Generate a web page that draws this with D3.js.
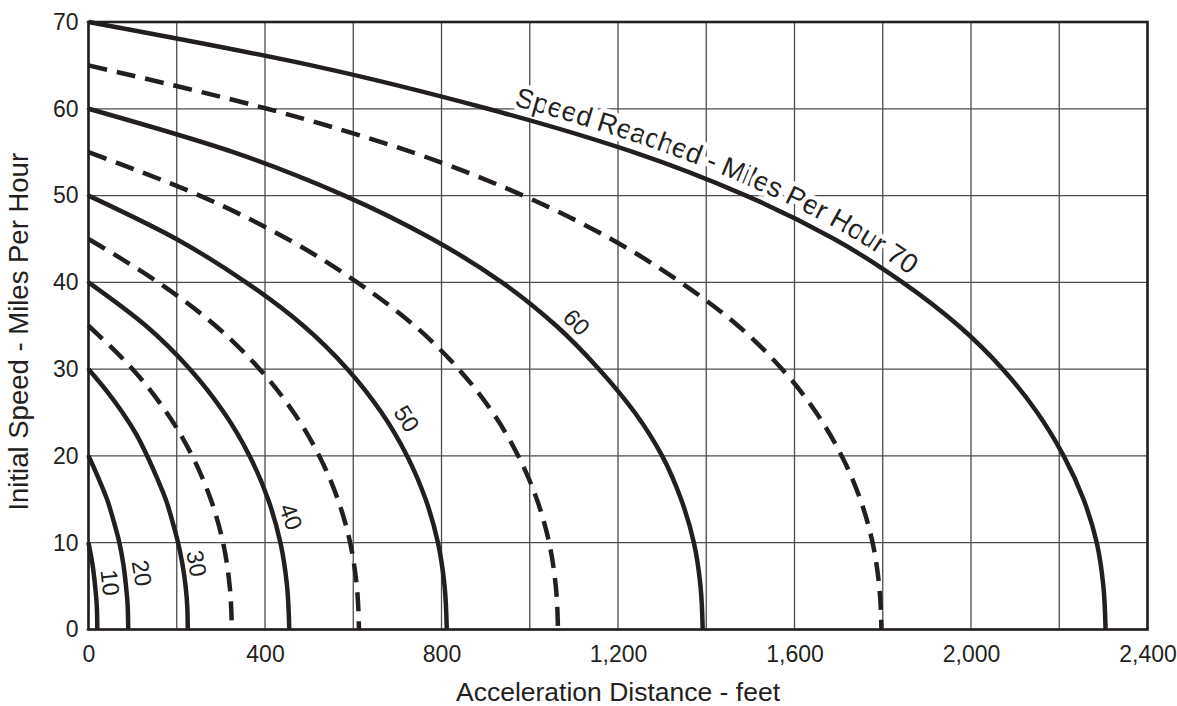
<!DOCTYPE html>
<html><head><meta charset="utf-8">
<script src="https://cdn.jsdelivr.net/npm/d3@7"></script>
<style>
body{margin:0;background:#fff}
text{font-family:"Liberation Sans",Arial,Helvetica,sans-serif;fill:#231f20}
</style>
</head><body>
<svg id="chart" width="1177" height="706"></svg>
<script>
// ---------------- DATA ----------------
const xTickValues = [0, 400, 800, 1200, 1600, 2000, 2400];
const xGridValues = [0, 200, 400, 600, 800, 1000, 1200, 1400, 1600, 1800, 2000, 2200, 2400];
const yTickValues = [0, 10, 20, 30, 40, 50, 60, 70];
const xTitle = "Acceleration Distance - feet";
const yTitle = "Initial Speed - Miles Per Hour";
const mainLabel = "Speed Reached - Miles Per Hour 70";

// each curve: [acceleration distance (ft), initial speed (mph)]
const curve10 = [[0,10],[9,7.5],[15,5],[19,2.5],[20,0]];
const curve20 = [[0,20],[22,17.5],[42,15],[57,12.5],[70,10],[79,7.5],[85,5],[89,2.5],[90,0]];
const curve30 = [[0,30],[41,27.5],[77,25],[108,22.5],[133,20],[155,17.5],[175,15],[190,12.5],[203,10],[213,7.5],[220,5],[224,2.5],[225,0]];
const curve35 = [[0,35],[100,30],[177,25],[235,20],[277,15],[305,10],[320,5],[325,0]];
const curve40 = [[0,40],[130,35],[230,30],[307,25],[365,20],[407,15],[435,10],[450,5],[455,0]];
const curve45 = [[0,45],[158,40],[288,35],[388,30],[465,25],[523,20],[565,15],[593,10],[608,5],[613,0]];
const curve50 = [[0,50],[199,45],[357,40],[487,35],[587,30],[664,25],[722,20],[764,15],[792,10],[807,5],[812,0]];
const curve55 = [[0,55],[252,50],[451,45],[609,40],[739,35],[839,30],[916,25],[974,20],[1016,15],[1044,10],[1059,5],[1064,0]];
const curve60 = [[0,60],[328,55],[580,50],[779,45],[937,40],[1060,35],[1157,30],[1238,25],[1300,20],[1343,15],[1372,10],[1387,5],[1392,0]];
const curve65 = [[0,65],[405,60],[733,55],[985,50],[1184,45],[1342,40],[1472,35],[1572,30],[1649,25],[1707,20],[1749,15],[1777,10],[1792,5],[1797,0]];
const curve70 = [[0,70],[505,65],[905,60],[1235,55],[1490,50],[1690,45],[1845,40],[1972,35],[2072,30],[2150,25],[2210,20],[2255,15],[2285,10],[2300,5],[2305,0]];

const speedsReached = [10,20,30,35,40,45,50,55,60,65,70];
const dashedSpeeds = [35,45,55,65];
const curveData = [curve10,curve20,curve30,curve35,curve40,curve45,curve50,curve55,curve60,curve65,curve70];

// curve labels: text, distance, speed at label centre
const labelTexts = ["10","20","30","40","50","60"];
const labelDistances = [49, 121, 245, 459, 721, 1106];
const labelSpeeds = [5.4, 6.5, 7.6, 13, 24.3, 35.4];

// ---------------- STYLE ----------------
const labelAngles = [84, 80, 80, 70, 58, 45];
const ink = "#231f20";

const svg = d3.select("#chart");
const x = d3.scaleLinear().domain([0, 2400]).range([88.5, 1147.5]);
const y = d3.scaleLinear().domain([0, 70]).range([629.5, 22]);

// grid
svg.append("g").selectAll("line").data(xGridValues).join("line")
  .attr("x1", d => x(d)).attr("x2", d => x(d))
  .attr("y1", y(0)).attr("y2", y(70))
  .attr("stroke", "#4d4d4f").attr("stroke-width", 1.3);
svg.append("g").selectAll("line").data(yTickValues).join("line")
  .attr("x1", x(0) - 2).attr("x2", x(2400))
  .attr("y1", d => y(d)).attr("y2", d => y(d))
  .attr("stroke", "#4d4d4f").attr("stroke-width", 1.3);

// axes tick labels
const xAxis = svg.append("g").attr("transform", `translate(0,${y(0)})`)
  .call(d3.axisBottom(x).tickValues(xTickValues).tickSize(0).tickPadding(16).tickFormat(d3.format(",")));
const yAxis = svg.append("g").attr("transform", `translate(${x(0)},0)`)
  .call(d3.axisLeft(y).tickValues(yTickValues).tickSize(0).tickPadding(10).tickFormat(d3.format("d")));
[xAxis, yAxis].forEach(a => {
  a.select(".domain").remove();
  a.selectAll("text").attr("font-size", 23).attr("font-family", null).style("fill", ink);
});

// titles
svg.append("text").attr("x", (x(0)+x(2400))/2).attr("y", 701)
  .attr("text-anchor", "middle").attr("font-size", 26.5).text(xTitle);
svg.append("text").attr("transform", `translate(28,${(y(0)+y(70))/2 + 6}) rotate(-90)`)
  .attr("text-anchor", "middle").attr("font-size", 27.5).text(yTitle);

const line = d3.line().x(d => x(d[0])).y(d => y(d[1])).curve(d3.curveMonotoneY);

// reference path for the main label
const defs = svg.append("defs");
const refPath = defs.append("path").attr("id", "ref70").attr("d", line(curve70));
const node = refPath.node();
const total = node.getTotalLength();
function lengthAtX(px){
  let lo = 0, hi = total;
  for (let i = 0; i < 40; i++){
    const mid = (lo+hi)/2;
    if (node.getPointAtLength(mid).x < px) lo = mid; else hi = mid;
  }
  return lo;
}
const L1 = lengthAtX(511), L2 = lengthAtX(904);
const fs = 27.5;
const probe = svg.append("text").attr("font-size", fs).text(mainLabel);
const natural = probe.node().getComputedTextLength();
probe.remove();
const spacing = (L2 - L1 - natural) / (mainLabel.length - 1);

// curve labels with white halo (under curves)
svg.append("g").selectAll("text").data(labelTexts).join("text")
  .attr("transform", (d,i) => `translate(${x(labelDistances[i])},${y(labelSpeeds[i])}) rotate(${labelAngles[i]})`)
  .attr("text-anchor", "middle").attr("dy", "0.35em")
  .attr("font-size", 23.5)
  .attr("stroke", "#fff").attr("stroke-width", 5).attr("paint-order", "stroke")
  .text(d => d);

const mt = svg.append("text").attr("font-size", fs).attr("dy", -10)
  .attr("letter-spacing", spacing)
  .attr("stroke", "#fff").attr("stroke-width", 9).attr("stroke-linejoin", "round").attr("paint-order", "stroke");
mt.append("textPath").attr("href", "#ref70").attr("startOffset", L1).text(mainLabel);

// curves
svg.append("g").selectAll("path").data(curveData).join("path")
  .attr("d", d => line(d))
  .attr("fill", "none").attr("stroke", ink).attr("stroke-width", 4.5)
  .attr("stroke-dasharray", (d,i) => dashedSpeeds.includes(speedsReached[i]) ? "19,10" : null);

// frame
svg.append("rect").attr("x", x(0)).attr("y", y(70))
  .attr("width", x(2400)-x(0)).attr("height", y(0)-y(70))
  .attr("fill", "none").attr("stroke", ink).attr("stroke-width", 2.6);
</script>
</body></html>
